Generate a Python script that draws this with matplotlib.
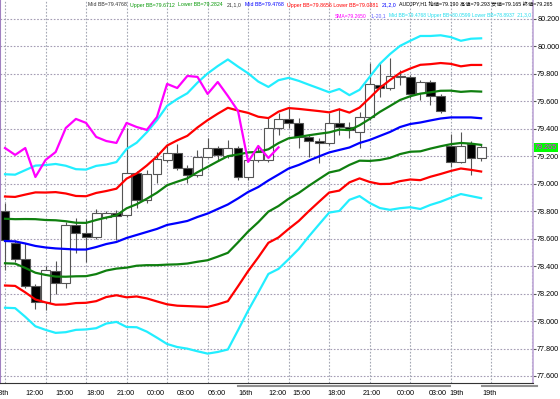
import numpy as np
import matplotlib
matplotlib.use("Agg")
import matplotlib.pyplot as plt
from matplotlib import font_manager
from matplotlib.transforms import blended_transform_factory
from matplotlib.lines import Line2D

# AUDJPY H1 candles (open, high, low, close)
opens = [78.802, 78.569, 78.452, 78.255, 78.139, 78.365, 78.277, 78.700, 78.641, 78.612,
         78.758, 78.787, 78.773, 79.078, 78.882, 79.071, 79.173, 79.224, 79.115, 79.064,
         79.195, 79.260, 79.202, 79.260, 79.049, 79.173, 79.173, 79.406, 79.472, 79.443,
         79.341, 79.311, 79.297, 79.443, 79.413, 79.377, 79.486, 79.719, 79.697, 79.785,
         79.778, 79.661, 79.741, 79.639, 79.275, 79.159, 79.290, 79.190]
highs = [78.860, 78.590, 78.569, 78.270, 78.401, 78.438, 78.722, 78.751, 78.743, 78.816,
         78.802, 78.809, 79.406, 79.093, 79.100, 79.231, 79.282, 79.290, 79.137, 79.246,
         79.333, 79.275, 79.319, 79.275, 79.188, 79.282, 79.479, 79.515, 79.552, 79.479,
         79.355, 79.333, 79.515, 79.552, 79.450, 79.523, 79.880, 79.887, 79.916, 79.829,
         79.792, 79.756, 79.756, 79.654, 79.362, 79.377, 79.311, 79.293]
lows = [78.372, 78.430, 78.241, 78.088, 78.081, 78.197, 78.241, 78.496, 78.430, 78.598,
        78.743, 78.590, 78.758, 78.823, 78.860, 79.006, 79.159, 79.100, 79.006, 79.049,
        79.188, 79.173, 79.188, 79.027, 79.027, 79.159, 79.159, 79.355, 79.406, 79.260,
        79.195, 79.151, 79.282, 79.355, 79.333, 79.260, 79.464, 79.632, 79.683, 79.719,
        79.625, 79.610, 79.574, 79.515, 79.122, 79.151, 79.064, 79.165]
closes = [78.590, 78.452, 78.255, 78.139, 78.372, 78.277, 78.700, 78.641, 78.612, 78.787,
          78.787, 78.765, 79.078, 78.882, 79.071, 79.180, 79.224, 79.115, 79.064, 79.195,
          79.260, 79.210, 79.260, 79.049, 79.173, 79.231, 79.406, 79.472, 79.443, 79.341,
          79.311, 79.297, 79.443, 79.413, 79.392, 79.486, 79.727, 79.697, 79.785, 79.778,
          79.654, 79.741, 79.639, 79.530, 79.159, 79.275, 79.188, 79.265]

# Bollinger(21) middle line and standard deviation
bb_mid = [78.583, 78.580, 78.565, 78.547, 78.536, 78.529, 78.525, 78.521, 78.521, 78.539,
          78.561, 78.576, 78.605, 78.627, 78.649, 78.671, 78.700, 78.714, 78.729, 78.758,
          78.783, 78.816, 78.849, 78.893, 78.940, 78.976, 79.024, 79.067, 79.111, 79.137,
          79.169, 79.199, 79.228, 79.246, 79.264, 79.297, 79.319, 79.348, 79.377, 79.413,
          79.435, 79.446, 79.461, 79.475, 79.483, 79.483, 79.483, 79.477]
bb_sd = [0.162, 0.162, 0.178, 0.195, 0.200, 0.205, 0.202, 0.195, 0.194, 0.197,
         0.193, 0.194, 0.216, 0.224, 0.242, 0.264, 0.289, 0.301, 0.310, 0.326,
         0.340, 0.347, 0.352, 0.320, 0.288, 0.256, 0.227, 0.229, 0.220, 0.204,
         0.184, 0.165, 0.146, 0.148, 0.127, 0.129, 0.153, 0.175, 0.189, 0.197,
         0.202, 0.210, 0.205, 0.202, 0.195, 0.186, 0.191, 0.194]
sma_shift = 20  # SMA(1) shifted -20 bars

time_labels = ["18th", "12:00", "15:00", "18:00", "21:00", "00:00", "03:00", "06:00", "16th",
               "12:00", "15:00", "18:00", "21:00", "00:00", "03:00", "19th", "19th"]
time_pos = [-1.0, 2, 5, 8, 11, 14, 17, 20, 23, 26, 28.4, 31.8, 35.3, 38.7, 41.8, 43.9, 47.1]
price_ticks = np.round(np.arange(77.6, 80.21, 0.2), 1)

header1 = [("Mid BB=79.4768", "#333333"), ("Upper BB=79.6712", "#0a9a0a"),
           ("Lower BB=79.2824", "#0a9a0a"), ("21,1,0", "#333333"),
           ("Mid BB=79.4768", "#0000ff"), ("Upper BB=79.8656 Lower BB=79.0881", "#ff0000"),
           ("21,2,0", "#0000ff"),
           ("AUDJPY,H1 始値=79.190 高値=79.293 安値=79.165 終値=79.265", "#000000")]
header2 = [("SMA=79.2650", "#ff00ff"), ("1,-20,1", "#6060ff"),
           ("Mid BB=79.4768 Upper BB=80.0599 Lower BB=78.8937  21,3,0", "#22ddee")]

try:
    font_manager.findfont("Liberation Sans Narrow", fallback_to_default=False)
    base = "Liberation Sans Narrow"
except ValueError:
    base = "Liberation Sans"
fnt = [base, "DejaVu Sans", "Noto Sans CJK JP"]

W, H = 560, 399
fig = plt.figure(figsize=(W / 100, H / 100), dpi=100)
ax = fig.add_axes([0, 1 - 383 / H, 533 / W, 383 / H])
ax.set_xlim(-0.494, 52.12)
ax.set_ylim(77.549, 80.338)

# grid
for p in price_ticks:
    ax.axhline(p, color="#a49cb4", lw=0.8, ls=(0, (1.5, 1.5)), zorder=0)
for g in range(0, 53, 4):
    ax.axvline(g, color="#a4a8b4", lw=0.8, ls=(0, (1.5, 1.5)), zorder=0)

n = len(closes)
x = np.arange(n)
o = np.array(opens)
c = np.array(closes)
ax.vlines(x, lows, highs, color="#555555", lw=0.8, zorder=2)
up = c >= o
bottom = np.minimum(o, c)
height = np.maximum(np.abs(c - o), 0.004)
ax.bar(x[up], height[up], bottom=bottom[up], width=0.88, color="white",
       edgecolor="#555555", lw=0.8, zorder=3)
ax.bar(x[~up], height[~up], bottom=bottom[~up], width=0.88, color="black",
       edgecolor="#555555", lw=0.8, zorder=3)

mid = np.array(bb_mid)
sd = np.array(bb_sd)
lw = 1.6
ax.plot(x, mid + 3 * sd, color="#22eeff", lw=lw, zorder=4)
ax.plot(x, mid - 3 * sd, color="#22eeff", lw=lw, zorder=4)
ax.plot(x, mid + 2 * sd, color="#ff0000", lw=lw, zorder=4)
ax.plot(x, mid - 2 * sd, color="#ff0000", lw=lw, zorder=4)
ax.plot(x, mid + sd, color="#0f7f0f", lw=lw, zorder=4)
ax.plot(x, mid - sd, color="#0f7f0f", lw=lw, zorder=4)
ax.plot(x, mid, color="#0000ff", lw=lw, zorder=4)
ax.plot(x[:n - sma_shift], c[sma_shift:], color="#ff00ff", lw=lw, zorder=4)

# axes styling
ax.spines["top"].set_visible(False)
ax.spines["left"].set_color("#a080c0")
ax.spines["right"].set_color("#c0a8d8")
ax.spines["right"].set_linewidth(1.2)
ax.spines["bottom"].set_color("#333333")
ax.yaxis.tick_right()
ax.set_yticks(price_ticks)
ax.set_yticklabels([f"{p:.3f}" for p in price_ticks], fontsize=5.2, family=fnt)
ax.tick_params(axis="y", length=2, pad=1, color="#555555")
ax.set_xticks([])

tx = blended_transform_factory(ax.transData, ax.transAxes)
for lab, pos in zip(time_labels, time_pos):
    ax.text(pos, -0.018, lab, transform=tx, fontsize=5.2, family=fnt,
            ha="left", va="top", clip_on=False)

# current price marker
tr = blended_transform_factory(ax.transAxes, ax.transData)
ax.text(1.004, closes[-1], f"{closes[-1]:.3f}", transform=tr, fontsize=5.2, family=fnt,
        color="#ff00ff", va="center", ha="left",
        bbox=dict(boxstyle="square,pad=0.15", fc="#00ff00", ec="none"), clip_on=False)


def header(segs, x0, x1, py):
    # lay segments side by side, scaled to fill x0..x1 pixels
    r = fig.canvas.get_renderer()
    size = 5.0
    texts = [fig.text(0, 0, s, fontsize=size, family=fnt, color=col, va="center")
             for s, col in segs]
    gap = fig.text(0, 0, "  ", fontsize=size, family=fnt)
    gw = gap.get_window_extent(r).width
    gap.remove()
    widths = [t.get_window_extent(r).width for t in texts]
    k = (x1 - x0) / (sum(widths) + gw * (len(texts) - 1))
    px = x0
    for t, w in zip(texts, widths):
        t.set_fontsize(size * k)
        t.set_position((px / W, 1 - py / H))
        px += (w + gw) * k


header(header1, 88, 553, 5)
header(header2, 335, 533, 16)

# separators under the time axis
for a, b in [(238, 450), (482, 537)]:
    fig.add_artist(Line2D([a / W, b / W], [1 - 386 / H] * 2, color="#909090", lw=1.5))

fig.savefig("out.png", dpi=100)
